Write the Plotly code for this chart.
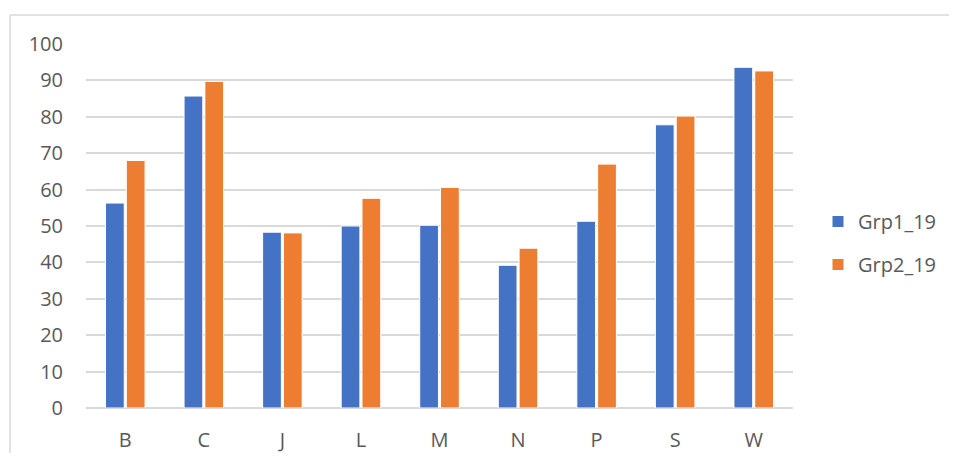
import plotly.graph_objects as go

categories = ["B", "C", "J", "L", "M", "N", "P", "S", "W"]
grp1_19 = [56.3, 85.7, 48.3, 50.0, 50.2, 39.2, 51.3, 77.8, 93.6]
grp2_19 = [68.0, 89.7, 48.1, 57.6, 60.6, 43.9, 67.0, 80.2, 92.6]
y_ticks = [0, 10, 20, 30, 40, 50, 60, 70, 80, 90, 100]

OFF = 8  # page body margin (on every side)
W, H = 957 - 2 * OFF, 461 - 2 * OFF
# plot area in reference pixel coordinates
PL, PR, PT, PB = 86, 793, 44, 408
L, T = PL - OFF, PT - OFF
pw, ph = PR - PL, PB - PT
R, B = W - L - pw, H - T - ph

font_family = "Open Sans, Liberation Sans, sans-serif"
text_color = "#595959"

fig = go.Figure()
fig.add_trace(go.Bar(name="Grp1_19", x=categories, y=grp1_19, legendgroup="g1",
                     marker=dict(color="#4472C4", line=dict(color="white", width=1))))
fig.add_trace(go.Bar(name="Grp2_19", x=categories, y=grp2_19, legendgroup="g2",
                     marker=dict(color="#ED7D31", line=dict(color="white", width=1))))

def px_x(p):
    return (p - PL) / pw

def px_y(p):
    return (PB - p) / ph

border = dict(color="#d9d9d9", width=1.5)
fig.update_layout(
    width=W, height=H,
    margin=dict(l=L, r=R, t=T, b=B, autoexpand=False),
    paper_bgcolor="white", plot_bgcolor="white",
    barmode="group", bargap=0.47, bargroupgap=0.1,
    font=dict(family=font_family, size=20, color=text_color),
    xaxis=dict(showgrid=False, showline=False, ticks="", ticklabelstandoff=18,
               tickfont=dict(size=20, color=text_color)),
    yaxis=dict(range=[0, 100], tickvals=y_ticks, showgrid=True,
               gridcolor="#d9d9d9", gridwidth=1.5, zeroline=True,
               zerolinecolor="#d9d9d9", zerolinewidth=1.5, showline=False,
               ticks="", ticklabelstandoff=22,
               tickfont=dict(size=20, color=text_color)),
    legend=dict(x=px_x(818), xanchor="left", y=px_y(243), yanchor="middle",
                font=dict(size=20, color=text_color), tracegroupgap=14,
                itemwidth=30, bgcolor="rgba(0,0,0,0)"),
    shapes=[
        dict(type="line", xref="paper", yref="paper",
             x0=px_x(10), x1=px_x(990), y0=px_y(15), y1=px_y(15), line=border, layer="below"),
        dict(type="line", xref="paper", yref="paper",
             x0=px_x(10), x1=px_x(10), y0=px_y(15), y1=px_y(490), line=border, layer="below"),
    ],
)

fig.write_html("out.html")
